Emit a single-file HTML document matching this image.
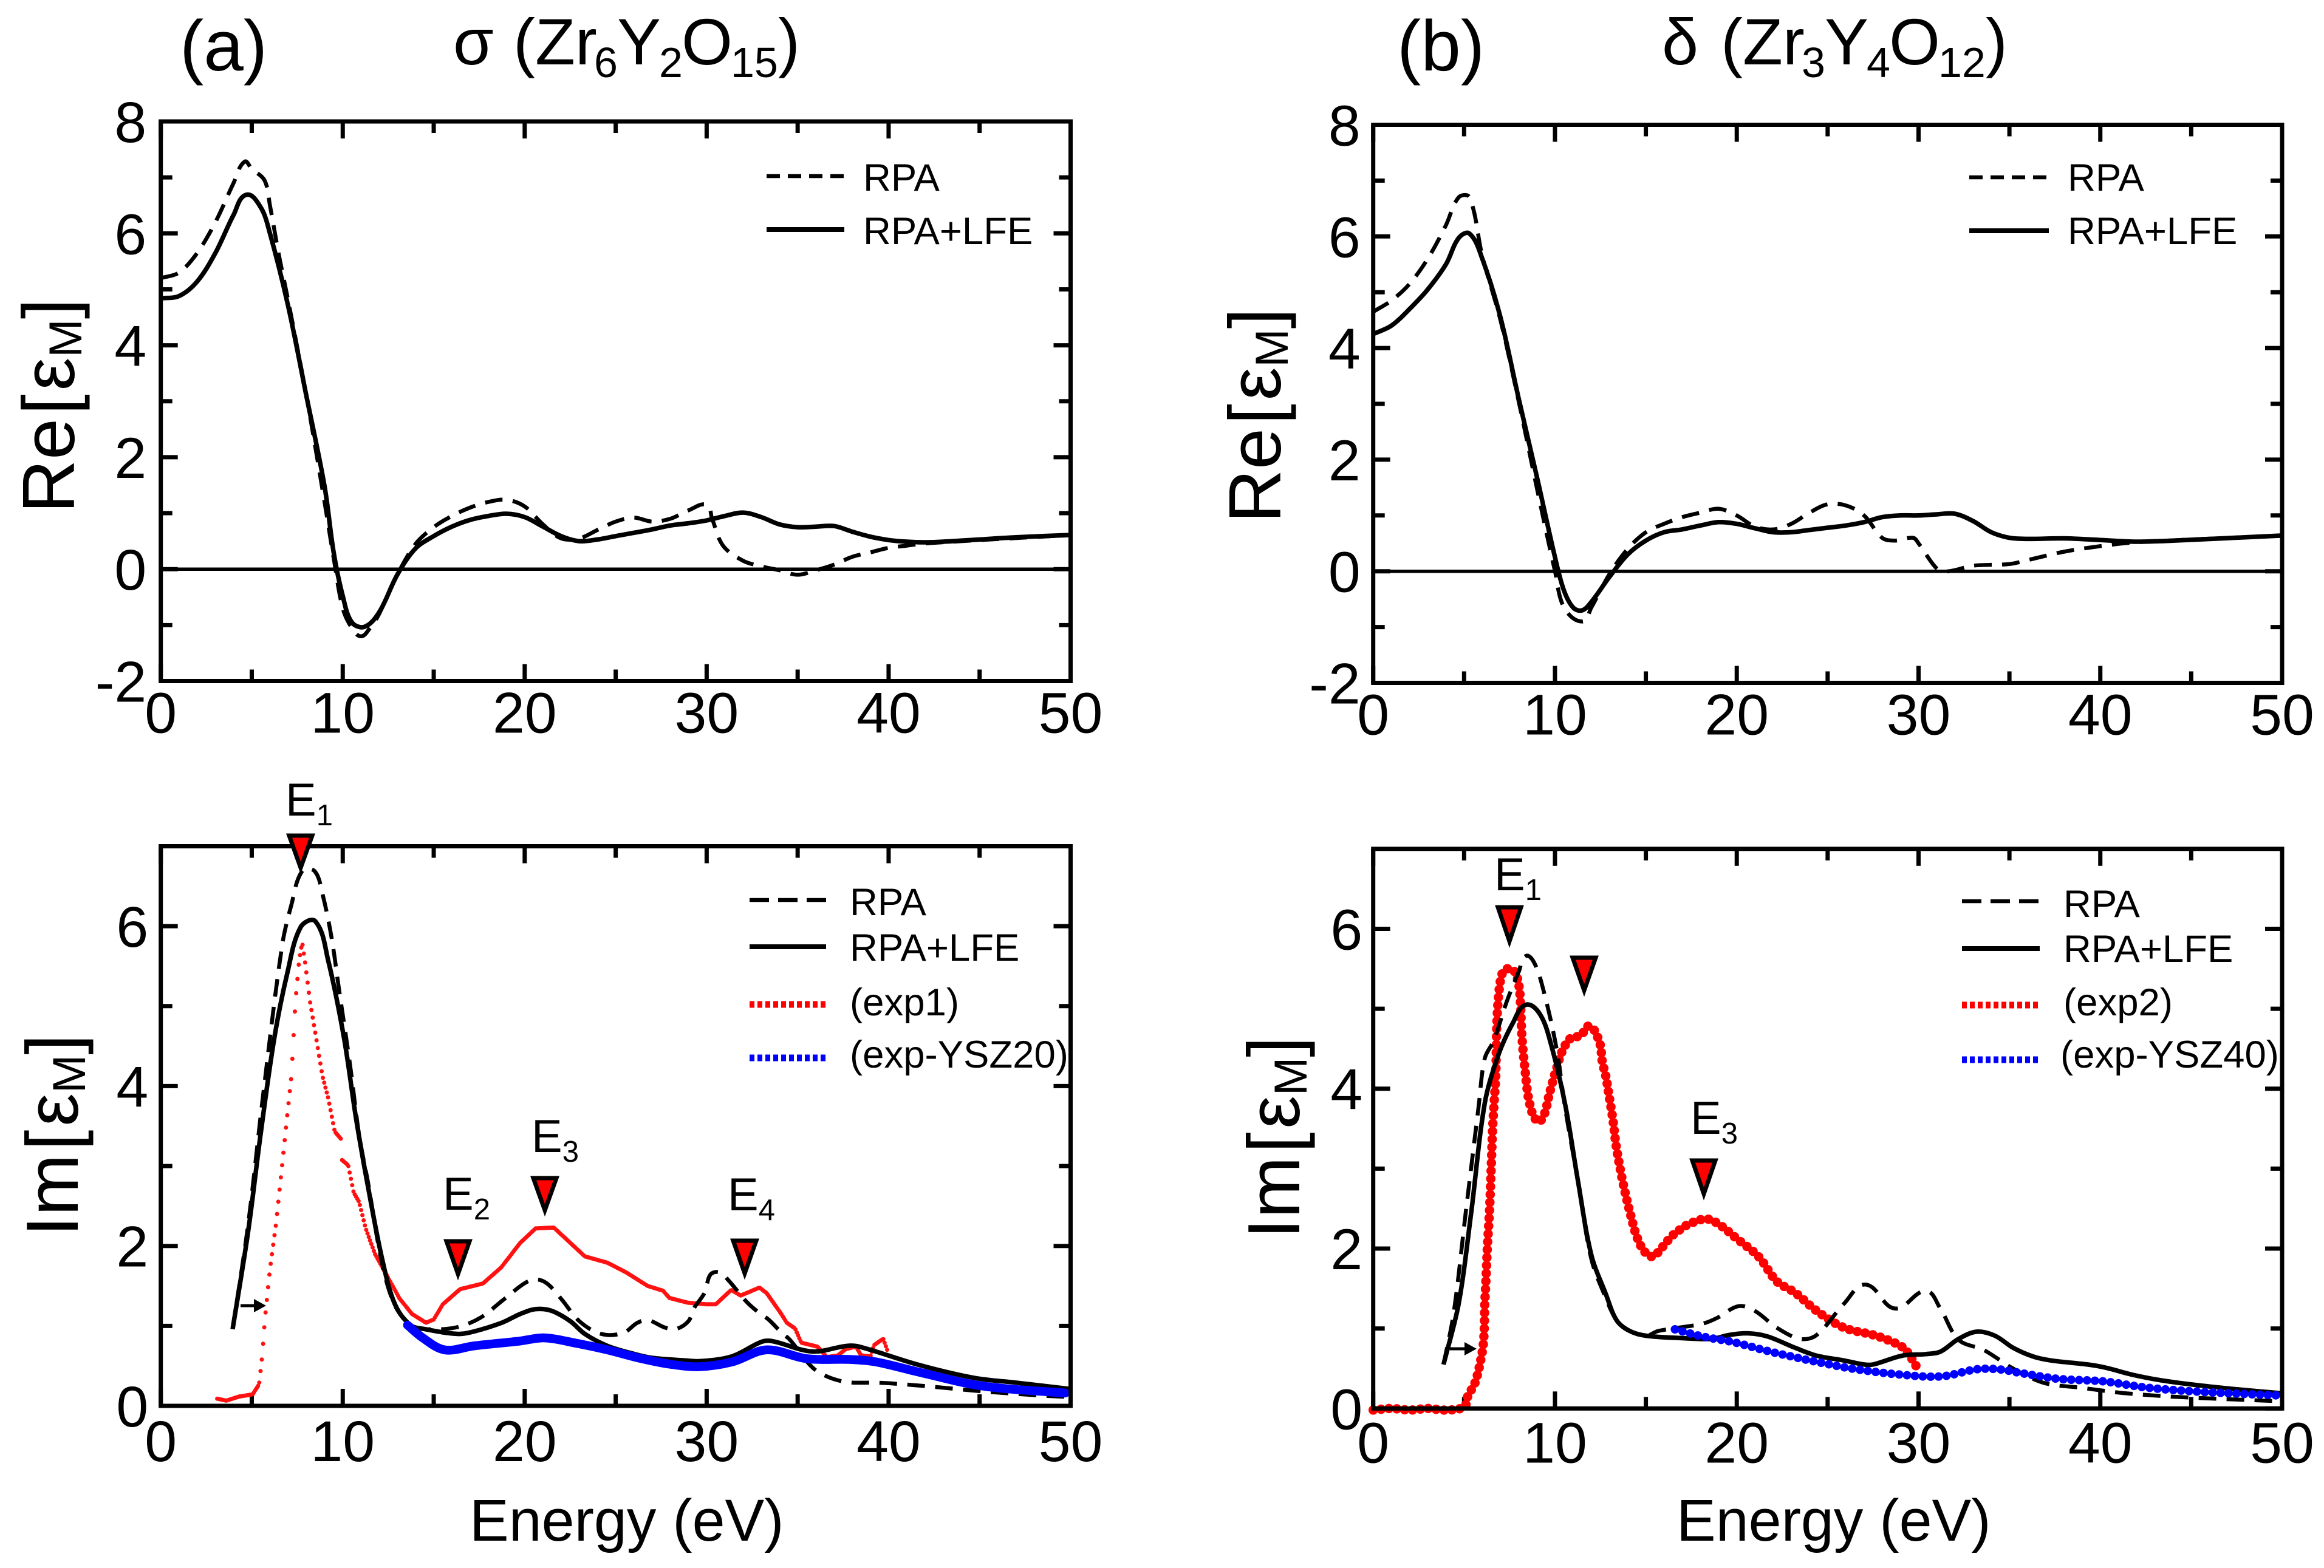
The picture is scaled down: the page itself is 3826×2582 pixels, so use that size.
<!DOCTYPE html>
<html lang="en">
<head>
<meta charset="utf-8">
<title>Dielectric function of sigma and delta phases</title>
<style>
html,body{margin:0;padding:0;background:#fff;}
#chart{display:block;width:3826px;height:2582px;background:#fff;}
text{font-family:"Liberation Sans",Arial,sans-serif;fill:#000;}
</style>
</head>
<body>
<svg id="chart" xmlns="http://www.w3.org/2000/svg" width="3826" height="2582" viewBox="0 0 3826 2582">
  <g>
    <text x="296" y="116" font-size="118">(a)</text>
    <text x="2300" y="116" font-size="118">(b)</text>
    <text y="106" font-size="108"><tspan x="746">σ</tspan><tspan x="845">(Zr</tspan><tspan x="978" font-size="70" dy="21">6</tspan><tspan x="1016" dy="-21">Y</tspan><tspan x="1085" font-size="70" dy="21">2</tspan><tspan x="1122" dy="-21">O</tspan><tspan x="1203" font-size="70" dy="21">15</tspan><tspan x="1281" dy="-21">)</tspan></text>
    <text y="106" font-size="108"><tspan x="2736">δ</tspan><tspan x="2833">(Zr</tspan><tspan x="2966" font-size="70" dy="21">3</tspan><tspan x="3004" dy="-21">Y</tspan><tspan x="3073" font-size="70" dy="21">4</tspan><tspan x="3110" dy="-21">O</tspan><tspan x="3191" font-size="70" dy="21">12</tspan><tspan x="3269" dy="-21">)</tspan></text>
  </g>

  <g>
    <text transform="translate(122 845) rotate(-90)" font-size="122">Re<tspan dx="6">[</tspan><tspan dx="6">ε</tspan><tspan font-size="76" dy="12">M</tspan><tspan dy="-12">]</tspan></text>
    <text transform="translate(2108 861) rotate(-90)" font-size="122">Re<tspan dx="6">[</tspan><tspan dx="6">ε</tspan><tspan font-size="76" dy="12">M</tspan><tspan dy="-12">]</tspan></text>
    <text transform="translate(128 2036) rotate(-90)" font-size="122">Im<tspan dx="6">[</tspan><tspan dx="6">ε</tspan><tspan font-size="76" dy="12">M</tspan><tspan dy="-12">]</tspan></text>
    <text transform="translate(2139 2040) rotate(-90)" font-size="122">Im<tspan dx="6">[</tspan><tspan dx="6">ε</tspan><tspan font-size="76" dy="12">M</tspan><tspan dy="-12">]</tspan></text>
    <text x="773" y="2537" font-size="97">Energy (eV)</text>
    <text x="2760" y="2537" font-size="97">Energy (eV)</text>
  </g>

  <g font-size="63.5">
    <line x1="1262" x2="1390" y1="290" y2="290" stroke="#000" stroke-width="6.5" stroke-dasharray="22 13"/>
    <text x="1421" y="314">RPA</text>
    <line x1="1262" x2="1390" y1="378" y2="378" stroke="#000" stroke-width="8"/>
    <text x="1421" y="402">RPA+LFE</text>
  </g>
  <g font-size="63.5">
    <line x1="3242" x2="3373" y1="292" y2="292" stroke="#000" stroke-width="6.5" stroke-dasharray="22 13"/>
    <text x="3404" y="314">RPA</text>
    <line x1="3242" x2="3373" y1="380" y2="380" stroke="#000" stroke-width="8"/>
    <text x="3404" y="402">RPA+LFE</text>
  </g>
  <g font-size="63.5">
    <line x1="1234" x2="1360" y1="1482" y2="1482" stroke="#000" stroke-width="6.5" stroke-dasharray="32 15"/>
    <text x="1399" y="1507">RPA</text>
    <line x1="1234" x2="1360" y1="1559" y2="1559" stroke="#000" stroke-width="8"/>
    <text x="1399" y="1582">RPA+LFE</text>
    <line x1="1234" x2="1360" y1="1654" y2="1654" stroke="#f00" stroke-width="11" stroke-dasharray="8 5"/>
    <text x="1399" y="1672">(exp1)</text>
    <line x1="1234" x2="1360" y1="1742" y2="1742" stroke="#00f" stroke-width="11" stroke-dasharray="8 5"/>
    <text x="1399" y="1758">(exp-YSZ20)</text>
  </g>
  <g font-size="63.5">
    <line x1="3230" x2="3358" y1="1484" y2="1484" stroke="#000" stroke-width="6.5" stroke-dasharray="32 15"/>
    <text x="3397" y="1510">RPA</text>
    <line x1="3230" x2="3358" y1="1562" y2="1562" stroke="#000" stroke-width="8"/>
    <text x="3397" y="1584">RPA+LFE</text>
    <line x1="3230" x2="3358" y1="1655" y2="1655" stroke="#f00" stroke-width="11" stroke-dasharray="8 5"/>
    <text x="3397" y="1672">(exp2)</text>
    <line x1="3230" x2="3358" y1="1745" y2="1745" stroke="#00f" stroke-width="11" stroke-dasharray="8 5"/>
    <text x="3392" y="1758">(exp-YSZ40)</text>
  </g>

  <g id="plots"></g>

  <g>
    <g>
      <line x1="396" x2="424" y1="2150" y2="2150" stroke="#000" stroke-width="5"/>
      <polygon points="438,2150 418,2139 418,2161" fill="#000"/>
    </g>
    <g>
      <line x1="2387" x2="2416" y1="2221" y2="2221" stroke="#000" stroke-width="5"/>
      <polygon points="2431,2221 2411,2210 2411,2232" fill="#000"/>
    </g>
  </g>

  <g fill="#f00" stroke="#000" stroke-width="7" stroke-linejoin="miter">
    <polygon points="476,1376 514,1376 495,1429"/>
    <polygon points="735,2044 773,2044 754,2098"/>
    <polygon points="878,1940 916,1940 897,1993"/>
    <polygon points="1207,2043 1245,2043 1226,2097"/>
    <polygon points="2466,1494 2504,1494 2485,1550"/>
    <polygon points="2589,1577 2627,1577 2608,1631"/>
    <polygon points="2786,1911 2824,1911 2805,1966"/>
  </g>
  <g font-size="76">
    <text x="470" y="1343">E<tspan font-size="49" dy="16">1</tspan></text>
    <text x="729" y="1992">E<tspan font-size="49" dy="16">2</tspan></text>
    <text x="875" y="1897">E<tspan font-size="49" dy="16">3</tspan></text>
    <text x="1198" y="1993">E<tspan font-size="49" dy="16">4</tspan></text>
    <text x="2460" y="1466">E<tspan font-size="49" dy="16">1</tspan></text>
    <text x="2783" y="1867">E<tspan font-size="49" dy="16">3</tspan></text>
  </g>
</svg>

<script>
// Tick values
const xTickLabels = [0, 10, 20, 30, 40, 50];
const xMinorTicks = [5, 15, 25, 35, 45];
const reTickLabels = [-2, 0, 2, 4, 6, 8];
const reMinorTicks = [-1, 1, 3, 5, 7];
const imTickLabels = [0, 2, 4, 6];
const imMinorTicks = [1, 3, 5];

// Panel (a) Re: RPA
const reARpaE = [0,1,2,3,4,4.6,5,5.7,6,6.5,7,8,9,9.5,10,10.5,11,11.5,12,13,14,15,16,17,18,19,20,21,22,23,24,25,26,27,28,29,30,30.3,30.9,32,33,34,35,36,37,38,39,40,41,42,50];
const reARpaV = [5.2,5.3,5.65,6.2,6.9,7.28,7.15,6.95,6.5,5.6,4.8,3.1,1.2,0.2,-0.7,-1.05,-1.2,-1.05,-0.8,-0.1,0.45,0.75,0.95,1.1,1.2,1.24,1.12,0.8,0.55,0.55,0.7,0.85,0.92,0.85,0.9,1.05,1.15,0.9,0.42,0.15,0.05,-0.02,-0.1,-0.02,0.08,0.22,0.3,0.38,0.42,0.46,0.61];
// Panel (a) Re: RPA+LFE
const reALfeE = [0,1,2,3,4,4.7,5.5,6,7,8,9,9.5,10,10.5,11.2,12,13,14,15,16,17,18,19,20,21,22,23,24,25,26,27,28,29,30,31,32,33,34,35,36,37,38,39,40,41,42,43,45,47,50];
const reALfeV = [4.84,4.88,5.14,5.65,6.33,6.69,6.46,6.0,4.7,3.1,1.48,0.3,-0.48,-0.95,-1.03,-0.77,-0.1,0.37,0.59,0.76,0.88,0.95,0.99,0.93,0.76,0.59,0.5,0.53,0.59,0.65,0.71,0.78,0.82,0.87,0.95,1.01,0.93,0.8,0.75,0.76,0.77,0.67,0.58,0.52,0.49,0.48,0.49,0.53,0.57,0.61];
// Panel (b) Re: RPA
const reBRpaE = [0,1,2,3,4,4.7,5.3,6,7,8,9,10,10.5,11.5,12,13,14,15,16,17,18,19,20,21,22,23,24,25,26,27,28,28.7,29.7,30,31,31.5,32,33,35,36,38,40,42,50];
const reBRpaV = [4.65,4.85,5.15,5.6,6.2,6.7,6.7,5.65,4.5,3.05,1.5,0,-0.65,-0.9,-0.65,-0.05,0.4,0.7,0.85,0.97,1.05,1.12,1.0,0.8,0.75,0.85,1.05,1.2,1.18,1.0,0.6,0.55,0.6,0.5,0.05,0,0.02,0.1,0.13,0.2,0.35,0.45,0.52,0.64];
// Panel (b) Re: RPA+LFE
const reBLfeE = [0,1,2,3,4,4.7,5.3,6,7,8,9,10,10.5,11,11.5,12,13,14,15,16,17,18,19,20,21,22,23,24,25,26,27,28,29,30,31,32,33,34,35,36,38,40,42,44,50];
const reBLfeV = [4.25,4.4,4.7,5.05,5.5,5.97,6.05,5.6,4.55,3.1,1.7,0.25,-0.35,-0.65,-0.7,-0.55,-0.1,0.3,0.55,0.7,0.75,0.82,0.88,0.85,0.77,0.7,0.7,0.74,0.78,0.82,0.88,0.97,1.0,1.0,1.02,1.03,0.9,0.7,0.6,0.58,0.59,0.56,0.53,0.55,0.64];

// Panel (a) Im: RPA
const imARpaE = [3.95,4.8,5.65,6.67,7.18,7.77,8.45,8.88,9.39,9.8,10.4,10.9,11.4,12.1,12.8,13.7,14.5,16.2,17.55,18.9,20.3,21.1,22,23,24.2,25.4,26.2,26.8,27.7,28.3,29,29.3,29.9,30.2,30.7,31.2,32.2,32.9,33.4,34.1,34.6,35.6,36.3,37.6,39.3,40.2,42.4,45.2,48.3,50];
const imARpaV = [0.96,2.27,3.94,5.76,6.27,6.69,6.69,6.41,5.85,5.2,4.27,3.39,2.78,1.85,1.29,1.01,0.96,0.98,1.1,1.34,1.57,1.55,1.34,1.06,0.9,0.91,1.04,1.07,0.98,0.96,1.06,1.22,1.42,1.64,1.67,1.57,1.3,1.16,1.08,0.92,0.82,0.53,0.4,0.3,0.29,0.28,0.24,0.18,0.13,0.11];
// Panel (a) Im: RPA+LFE
const imALfeE = [3.95,4.8,5.48,6.24,6.97,7.69,8.5,9.2,10.07,10.75,11.43,12.2,12.87,13.72,14.5,16.3,17.2,18.74,19.76,20.6,21.46,22.5,23.3,24.55,26,27,28.7,29.7,31.4,33,33.6,35.8,37.7,38.4,41.7,44.7,47,50];
const imALfeV = [0.96,2.18,3.39,4.6,5.43,5.99,6.06,5.57,4.6,3.57,2.69,1.8,1.27,1.01,0.96,0.9,0.93,1.04,1.15,1.21,1.19,1.06,0.9,0.75,0.65,0.6,0.57,0.56,0.62,0.8,0.81,0.68,0.75,0.74,0.51,0.35,0.29,0.21];
// Panel (a) Im: exp1
const imAExpE = [3.1,3.6,4.3,5.05,5.4,5.56,5.73,6,6.33,6.67,6.92,7.18,7.4,7.6,7.77,7.94,8.2,8.54,8.88,9.2,9.56,9.9,9.93,10.3,10.6,10.9,11.26,11.77,12.45,13.13,13.8,14.57,15,15.5,16.45,17.7,18.7,19.76,20.6,21.6,22.5,23.3,24.55,25.57,26.76,27.6,27.95,28.97,30,30.5,31.35,31.87,32.9,33.3,34.1,34.4,34.85,35.2,36.1,36.6,37.2,37.65,38.2,38.5,39,39.2,39.7,39.97];
const imAExpV = [0.09,0.065,0.116,0.144,0.27,0.6,1.1,1.71,2.27,3.01,3.57,4.13,5.06,5.57,5.8,5.53,5.06,4.6,4.13,3.85,3.43,3.34,3.08,3.01,2.67,2.55,2.22,1.9,1.62,1.34,1.15,1.04,1.08,1.27,1.46,1.53,1.73,2.04,2.22,2.23,2.04,1.87,1.79,1.67,1.5,1.44,1.35,1.29,1.27,1.27,1.45,1.38,1.48,1.41,1.15,1.04,0.97,0.79,0.74,0.61,0.63,0.71,0.74,0.63,0.62,0.76,0.84,0.67];
// Panel (a) Im: exp-YSZ20
const imAYszE = [13.56,14.4,15.6,17.2,19.7,21.1,22.9,24.55,26.25,28,29.6,31.4,33.3,35.5,37.9,39.3,41.7,45.1,49.7];
const imAYszV = [1.01,0.85,0.7,0.75,0.81,0.85,0.78,0.7,0.6,0.52,0.49,0.55,0.7,0.59,0.58,0.55,0.42,0.25,0.16];

// Panel (b) Im: RPA
const imBRpaE = [3.87,4.43,5.1,5.8,6.14,6.65,7.33,8.02,8.4,8.87,9.38,10.07,10.58,11.26,12,12.8,13.4,14.1,15,15.7,18.1,18.9,20.1,21,22.2,23.5,24.4,25.9,27.1,28.7,30.4,31.2,32.2,33.6,35.2,36.9,38.9,41.4,44.6,50];
const imBRpaV = [0.55,1.2,2.47,3.78,4.38,4.61,5.08,5.47,5.66,5.57,5.22,4.52,3.73,2.85,1.87,1.38,1.1,0.97,0.91,0.97,1.06,1.13,1.28,1.22,1.01,0.87,0.92,1.31,1.55,1.25,1.47,1.25,0.86,0.73,0.5,0.32,0.26,0.19,0.14,0.09];
// Panel (b) Im: RPA+LFE
const imBLfeE = [3.87,4.7,5.38,6.14,6.9,7.68,8.4,9.18,9.8,10.58,11.26,12,12.8,13.4,14.1,15,17,18.6,19.6,20.65,21.7,23.2,24.4,25.9,27,27.5,29.1,30.4,31.2,32.2,33.2,34.2,35.2,36.3,37.3,39.3,40.3,41.8,43.4,45.4,47.5,50];
const imBLfeV = [0.55,1.31,2.43,3.82,4.43,4.82,5.05,4.93,4.54,3.78,2.85,1.92,1.43,1.1,0.97,0.91,0.88,0.87,0.92,0.94,0.9,0.76,0.66,0.6,0.55,0.55,0.66,0.68,0.71,0.87,0.96,0.91,0.76,0.65,0.6,0.55,0.51,0.42,0.35,0.29,0.24,0.19];
// Panel (b) Im: exp2
const imBExpE = [0,1,2,3,4,5,5.2,5.63,6,6.1,6.14,6.2,6.28,6.4,6.48,6.57,6.65,6.74,6.8,6.9,7.08,7.34,7.76,8,8.1,8.18,8.35,8.6,9.04,9.38,9.72,10.07,10.4,10.9,11.4,11.9,12.46,12.6,12.8,12.97,13.2,13.35,13.56,13.8,14.15,14.5,14.9,15.36,15.8,16.4,16.9,17.4,18.35,19.1,19.97,21.2,22.2,23.2,24.4,25.9,27.5,28.7,29.3,29.87];
const imBExpV = [-0.02,0,-0.02,0,-0.02,0.02,0.15,0.34,0.71,0.94,1.31,1.59,2.01,2.48,2.94,3.5,3.82,4.15,4.8,5.17,5.43,5.5,5.47,5.31,5.08,4.66,4.24,3.82,3.59,3.66,3.96,4.24,4.47,4.64,4.66,4.78,4.57,4.34,4.15,3.92,3.59,3.31,3.03,2.76,2.43,2.15,1.97,1.9,1.99,2.15,2.24,2.31,2.37,2.29,2.13,1.9,1.59,1.45,1.22,1.01,0.92,0.82,0.73,0.53];
// Panel (b) Im: exp-YSZ40
const imBYszE = [16.6,18.1,19.8,21.5,23.2,24.9,26.3,28.7,31.2,33.2,34.4,35.7,37.7,40.1,42.6,45.4,50];
const imBYszV = [0.99,0.9,0.83,0.73,0.64,0.56,0.5,0.43,0.4,0.49,0.49,0.44,0.37,0.34,0.26,0.21,0.16];

const SVG_NS = 'http://www.w3.org/2000/svg';
const plots = document.getElementById('plots');

function svgEl(parent, tag, attrs) {
  const el = document.createElementNS(SVG_NS, tag);
  for (const k in attrs) el.setAttribute(k, attrs[k]);
  parent.appendChild(el);
  return el;
}

function linearScale(d0, d1, r0, r1) {
  return function (v) { return r0 + (v - d0) / (d1 - d0) * (r1 - r0); };
}

function drawPanel(id, box, yMin, yMax, yMajors, yMinors, labelGap, xBase) {
  const g = svgEl(plots, 'g', {});
  
  
  const sx = linearScale(0, 50, box.l, box.r);
  const sy = linearScale(yMin, yMax, box.b, box.t);

  const xMaj = [[xTickLabels, 28], [xMinorTicks, 19]];
  xMaj.forEach(function (set) {
    set[0].forEach(function (v) {
      const bt = svgEl(g, 'line', { x1: sx(v), x2: sx(v), y1: box.b, y2: box.b - set[1], stroke: '#000', 'stroke-width': 7 });
      
      
      const tt = svgEl(g, 'line', { x1: sx(v), x2: sx(v), y1: box.t, y2: box.t + set[1], stroke: '#000', 'stroke-width': 7 });
      
      
    });
  });
  const yMaj = [[yMajors, 28], [yMinors, 19]];
  yMaj.forEach(function (set) {
    set[0].forEach(function (v) {
      const lt = svgEl(g, 'line', { x1: box.l, x2: box.l + set[1], y1: sy(v), y2: sy(v), stroke: '#000', 'stroke-width': 7 });
      
      
      const rt = svgEl(g, 'line', { x1: box.r, x2: box.r - set[1], y1: sy(v), y2: sy(v), stroke: '#000', 'stroke-width': 7 });
      
      
    });
  });

  xTickLabels.forEach(function (v) {
    const t = svgEl(g, 'text', { x: sx(v), y: box.b + xBase, 'font-size': 95, 'text-anchor': 'middle' });
    t.textContent = String(v);
    
    
  });
  yMajors.forEach(function (v) {
    const t = svgEl(g, 'text', { x: box.l - labelGap, y: sy(v) + 34, 'font-size': 95, 'text-anchor': 'end' });
    t.textContent = String(v);
    
    
  });

  return { g: g, sx: sx, sy: sy, box: box };
}

function drawFrame(panel) {
  const b = panel.box;
  const f = svgEl(panel.g, 'rect', { x: b.l, y: b.t, width: b.r - b.l, height: b.b - b.t, fill: 'none', stroke: '#000', 'stroke-width': 7 });
  
  
}

function unit(dx, dy) {
  const n = Math.hypot(dx, dy) || 1;
  return [dx / n, dy / n];
}

function drawSeries(panel, name, es, vs, style) {
  const pts = es.map(function (e, i) { return [panel.sx(e), panel.sy(vs[i])]; });
  let d = 'M' + pts[0][0].toFixed(1) + ' ' + pts[0][1].toFixed(1);
  for (let i = 0; i < pts.length - 1; i++) {
    const p0 = pts[i - 1] || pts[i];
    const p1 = pts[i];
    const p2 = pts[i + 1];
    const p3 = pts[i + 2] || p2;
    const seg = Math.hypot(p2[0] - p1[0], p2[1] - p1[1]) / 3;
    const t1 = unit(p2[0] - p0[0], p2[1] - p0[1]);
    const t2 = unit(p3[0] - p1[0], p3[1] - p1[1]);
    d += 'C' + (p1[0] + t1[0] * seg).toFixed(1) + ' ' + (p1[1] + t1[1] * seg).toFixed(1) + ' ' +
         (p2[0] - t2[0] * seg).toFixed(1) + ' ' + (p2[1] - t2[1] * seg).toFixed(1) + ' ' +
         p2[0].toFixed(1) + ' ' + p2[1].toFixed(1);
  }
  const p = svgEl(panel.g, 'path', Object.assign({ d: d, fill: 'none', 'stroke-linejoin': 'round' }, style));
  
  
}

// Measured spectrum drawn as dots at a constant energy step along the read points.
function drawDots(panel, name, es, vs, stepE, style) {
  let d = '';
  let i = 0;
  for (let e = es[0]; e <= es[es.length - 1]; e += stepE) {
    while (i < es.length - 2 && es[i + 1] < e) i++;
    const f = (e - es[i]) / (es[i + 1] - es[i]);
    const v = vs[i] + f * (vs[i + 1] - vs[i]);
    d += 'M' + panel.sx(e).toFixed(1) + ' ' + panel.sy(v).toFixed(1) + 'h0.01';
  }
  const p = svgEl(panel.g, 'path', Object.assign({ d: d, fill: 'none', 'stroke-linecap': 'round' }, style));
  
  
}

function drawZero(panel) {
  const b = panel.box;
  const z = svgEl(panel.g, 'line', { x1: b.l, x2: b.r, y1: panel.sy(0), y2: panel.sy(0), stroke: '#000', 'stroke-width': 5.5 });
  
  
}

const solidStyle = { stroke: '#000', 'stroke-width': 7.5 };
const dashStyle = { stroke: '#000', 'stroke-width': 6.5, 'stroke-dasharray': '29 17' };
const dotRedThin = { stroke: '#f11', 'stroke-width': 7 };
const dotRedBig = { stroke: '#f00', 'stroke-width': 15.5, 'stroke-linecap': 'round', 'stroke-dasharray': '0 13' };
const lineBlue = { stroke: '#00f', 'stroke-width': 14.5, 'stroke-linecap': 'round' };
const dotBlue = { stroke: '#00f', 'stroke-width': 14, 'stroke-linecap': 'round', 'stroke-dasharray': '0 13' };

const reA = drawPanel('panel-a-real', { l: 264.7, r: 1762.5, t: 200, b: 1121.5 }, -2, 8, reTickLabels, reMinorTicks, 23.5, 85);
drawZero(reA);
drawSeries(reA, 'series-rpa', reARpaE, reARpaV, dashStyle);
drawSeries(reA, 'series-rpa-lfe', reALfeE, reALfeV, solidStyle);
drawFrame(reA);

const reB = drawPanel('panel-b-real', { l: 2260.7, r: 3757, t: 205.5, b: 1124.5 }, -2, 8, reTickLabels, reMinorTicks, 21, 85);
drawZero(reB);
drawSeries(reB, 'series-rpa', reBRpaE, reBRpaV, dashStyle);
drawSeries(reB, 'series-rpa-lfe', reBLfeE, reBLfeV, solidStyle);
drawFrame(reB);

const imA = drawPanel('panel-a-imag', { l: 264.7, r: 1762.5, t: 1393.5, b: 2315 }, 0, 7, imTickLabels, imMinorTicks, 20.5, 91);
drawDots(imA, 'series-exp1', imAExpE, imAExpV, 0.07, dotRedThin);
drawSeries(imA, 'series-rpa', imARpaE, imARpaV, dashStyle);
drawSeries(imA, 'series-rpa-lfe', imALfeE, imALfeV, solidStyle);
drawSeries(imA, 'series-exp-ysz20', imAYszE, imAYszV, lineBlue);
drawFrame(imA);

const imB = drawPanel('panel-b-imag', { l: 2260.7, r: 3757, t: 1397.8, b: 2319.3 }, 0, 7, imTickLabels, imMinorTicks, 17.5, 89);
drawSeries(imB, 'series-exp2', imBExpE, imBExpV, dotRedBig);
drawSeries(imB, 'series-rpa', imBRpaE, imBRpaV, dashStyle);
drawSeries(imB, 'series-rpa-lfe', imBLfeE, imBLfeV, solidStyle);
drawSeries(imB, 'series-exp-ysz40', imBYszE, imBYszV, dotBlue);
drawFrame(imB);
</script>
</body>
</html>
